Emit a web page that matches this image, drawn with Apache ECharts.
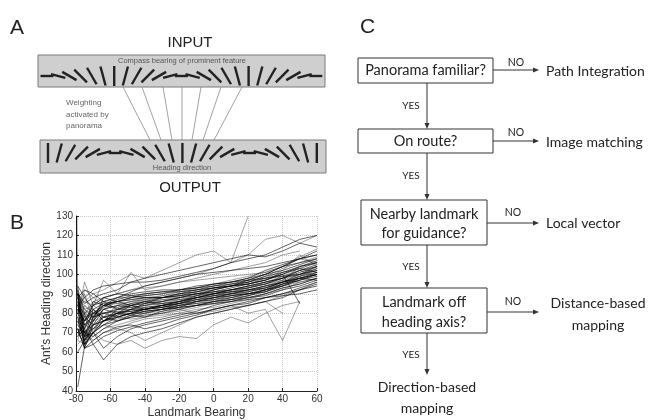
<!DOCTYPE html>
<html>
<head>
<meta charset="utf-8">
<script src="https://cdn.jsdelivr.net/npm/echarts@6/dist/echarts.min.js"></script>
<style>
  html, body { margin: 0; padding: 0; background: #fff; }
  #main { width: 656px; height: 420px; }
</style>
</head>
<body>
<div id="main"></div>
<script>
// panel B data: heading of each ant track read at these landmark bearings
const bearings = [-79, -75, -70, -64, -56, -48, -40, -30, -20, -10, 0, 10, 20, 30, 40, 50, 60];
const xTicks = [-80, -60, -40, -20, 0, 20, 40, 60];
const yTicks = [40, 50, 60, 70, 80, 90, 100, 110, 120, 130];

const track01 = [88, 72, 80, 84, 86, 88, 89, 90, 92, 93, 95, 96, 98, 100, 104, 106, 108];
const track02 = [76, 66, 74, 78, 80, 81, 82, 84, 85, 87, 88, 90, 91, 93, 96, 99, 101];
const track03 = [92, 80, 86, 88, 90, 92, 93, 94, 96, 98, 100, 102, 104, 106, 110, 112, null];
const track04 = [70, 64, 70, 74, 76, 78, 79, 80, 82, 84, 86, 87, 89, 91, 94, 97, 99];
const track05 = [84, 76, 82, 85, 86, 87, 88, 88, 89, 90, 91, 92, 93, 95, 98, 101, 104];
const track06 = [64, 68, 72, 74, 72, 75, 77, 78, 80, 82, 83, 85, 87, 90, 92, 96, 98];
const track07 = [90, 85, 88, 90, 92, 96, 98, 100, 102, 104, 106, 108, 110, 109, 112, 116, 114];
const track08 = [78, 70, 76, 82, 80, 79, 78, 81, 83, 86, 88, 89, 90, 91, 95, 98, 100];
const track09 = [86, 82, 84, 86, 85, 84, 86, 87, 88, 89, 90, 91, 92, 92, 96, 99, 103];
const track10 = [72, 62, 66, 70, 73, 74, 72, 74, 77, 79, 82, 84, 86, 88, 90, 93, 96];
const track11 = [82, 78, 74, 76, 79, 82, 85, 88, 90, 92, 94, 96, 98, 102, 105, 108, 110];
const track12 = [88, 84, 80, 82, 84, 86, 87, 86, 87, 88, 89, 90, 90, 92, 94, 96, null];
const track13 = [60, 66, 70, 62, 68, 72, 74, 76, 78, 80, 82, 84, 85, 88, 90, 92, 95];
const track14 = [94, 88, 92, 94, 95, 96, 96, 97, 99, 101, 103, 106, 108, 110, 114, 118, 120];
const track15 = [76, 80, 78, 80, 82, 83, 84, 85, 86, 88, 89, 91, 93, 96, 99, 102, 105];
const track16 = [68, 72, 64, 56, 64, 68, 70, 72, 75, 78, 80, 82, 84, 86, 88, 92, 94];
const track17 = [84, 74, 79, 83, 87, 89, 90, 91, 91, 92, 93, 94, 95, 97, 100, 103, 101];
const track18 = [80, 70, 72, 78, 80, 80, 80, 82, 84, 86, 87, 88, 89, 92, 97, 104, 106];
const track19 = [74, 68, 78, 84, 88, 91, 94, 96, 98, 100, 101, 102, 103, 104, 106, 108, 110];
const track20 = [88, 92, 90, 86, 88, 90, 91, 92, 92, 93, 94, 95, 96, 98, 99, 100, 102];
const track21 = [66, 64, 68, 72, 74, 76, 78, 79, 80, 80, 81, 83, 84, 86, 89, 92, 96];
const track22 = [82, 76, 84, 88, 86, 84, 82, 83, 85, 88, 90, 91, 92, 94, 96, 100, 104];
const track23 = [72, 70, 74, 76, 78, 80, 82, 84, 86, 89, 92, 94, 96, 99, 101, 103, 106];
const track24 = [86, 78, 80, 80, 82, 85, 87, 88, 89, 90, 90, 91, 91, 93, 95, 98, 100];
const track25 = [78, 64, 70, 76, 82, 84, 85, 86, 88, 90, 92, 94, 97, 100, 104, 108, 112];
const track26 = [90, 82, 78, 80, 81, 81, 82, 83, 84, 85, 86, 87, 88, 89, 92, 94, 97];
const track27 = [70, 74, 76, 78, 79, 80, 80, 81, 82, 84, 85, 86, 88, 90, 93, 95, 98];
const track28 = [84, 88, 82, 78, 76, 78, 80, 82, 83, 84, 86, 88, 90, 92, 94, 98, 100];
const track29 = [86, 80, 84, 88, 90, 92, 94, 96, 98, 100, 103, 106, 130, null, null, null, null];
const track30 = [80, 74, 78, 80, 82, 84, 86, 84, 82, 80, 82, 84, 80, 82, 66, 86, null];
const track31 = [76, 68, 70, 66, 64, 66, 62, 66, 68, 67, 74, 78, 75, 80, 84, 86, null];
const track32 = [84, 86, 90, 92, 96, 100, 98, 102, 106, 110, 112, 106, 110, 118, 120, 116, 120];
const track33 = [42, 63, 70, 74, 78, 80, 82, 84, 86, 88, 90, 92, 94, 96, 98, 102, 104];
const track34 = [80, 96, 84, 97, 90, 101, 92, 94, 96, 97, 98, 99, 100, 101, 104, 108, 106];
const track35 = [74, 70, 66, 70, 72, 70, 66, 70, 74, 78, 80, 82, 84, 86, 80, null, null];
const track36 = [82, 76, 80, 84, 86, 88, 90, 91, 92, 94, 95, 96, 97, 98, 100, 85, null];
const track37 = [72, 66, 72, 76, 78, 80, 81, 82, 83, 84, 85, 86, 87, 88, 89, 90, 92];
const track38 = [90, 86, 84, 86, 88, 88, 89, 90, 91, 92, 93, 94, 95, 98, 102, 110, 104];
const track39 = [90, 68, 82, 76, 80, 84, 86, 85, 86, 88, 90, 92, 94, 96, 98, 100, 103];
const track40 = [66, 78, 70, 80, 78, 80, 83, 84, 86, 87, 88, 89, 91, 94, 97, 100, 102];
const track41 = [85, 62, 74, 82, 84, 83, 84, 86, 88, 90, 91, 93, 95, 97, 100, 104, 107];
const track42 = [78, 90, 76, 84, 82, 84, 85, 87, 87, 89, 91, 92, 94, 95, 98, 102, 99];
const track43 = [92, 70, 68, 72, 76, 79, 81, 82, 84, 86, 88, 90, 92, 94, 96, 98, 101];
const track44 = [74, 84, 80, 78, 84, 86, 88, 89, 90, 91, 92, 94, 96, 99, 103, 106, 109];
const track45 = [88, 66, 78, 86, 82, 82, 83, 84, 85, 86, 87, 89, 90, 92, 95, 97, 100];
const track46 = [70, 76, 84, 80, 78, 77, 78, 80, 81, 83, 85, 87, 89, 92, 95, 99, 102];
const track47 = [82, 64, 76, 88, 90, 89, 88, 88, 90, 91, 93, 95, 97, 100, 102, 105, 108];
const track48 = [94, 74, 72, 78, 80, 82, 84, 85, 87, 88, 89, 91, 93, 95, 97, 96, 98];
const track49 = [76, 72, 86, 84, 83, 85, 86, 88, 89, 91, 93, 94, 95, 97, 101, 104, 106];
const track50 = [86, 68, 70, 76, 80, 82, 82, 83, 85, 87, 89, 90, 92, 93, 96, 98, 97];
const track51 = [68, 80, 82, 76, 77, 79, 81, 82, 84, 85, 87, 88, 90, 91, 94, 97, 100];
const track52 = [80, 92, 88, 84, 85, 86, 87, 89, 91, 93, 95, 97, 99, 101, 104, 109, 113];
const track53 = [72, 62, 64, 68, 71, 73, 75, 77, 79, 81, 84, 86, 88, 90, 93, 95, 98];
const track54 = [90, 80, 76, 82, 86, 87, 88, 88, 88, 89, 90, 92, 93, 95, 99, 102, 105];

// the near-vertical spike at the left edge
const spikeBearings = [-79.6, -79.3, -77, -74];
const spikeHeadings = [130, 90, 82, 78];

const darkTracks = [track01, track02, track04, track05, track07, track08, track10, track11,
  track13, track14, track16, track17, track19, track20, track22, track23, track25, track26,
  track28, track33, track36, track37, track39, track41, track43, track45, track47, track49,
  track50, track53];
const lightTracks = [track03, track06, track09, track12, track15, track18, track21, track24,
  track27, track29, track30, track31, track32, track34, track35, track38, track40, track42,
  track44, track46, track48, track51, track52, track54];

const chart = echarts.init(document.getElementById('main'));

function zip(xs, ys) {
  return xs.map((x, i) => [x, ys[i]]);
}

const series = [];
lightTracks.forEach(t => series.push({
  type: 'line', data: zip(bearings, t), showSymbol: false, silent: true,
  lineStyle: { color: 'rgba(60,60,60,0.48)', width: 1 }
}));
darkTracks.forEach(t => series.push({
  type: 'line', data: zip(bearings, t), showSymbol: false, silent: true,
  lineStyle: { color: 'rgba(0,0,0,0.6)', width: 1 }
}));
series.push({
  type: 'line', data: zip(spikeBearings, spikeHeadings), showSymbol: false, silent: true,
  lineStyle: { color: 'rgba(0,0,0,0.6)', width: 1.2 }
});

// ---- drawing helpers for panels A and C ----
const g = [];
function txt(x, y, s, size, o) {
  o = o || {};
  g.push({
    type: 'text', x: x, y: y, silent: true,
    style: {
      text: s, fontSize: size, fontFamily: o.font || 'Liberation Sans, Arial, sans-serif',
      fill: o.color || '#222', align: o.align || 'center', textAlign: o.align || 'center',
      verticalAlign: 'middle', textVerticalAlign: 'middle'
    }
  });
}
function seg(x1, y1, x2, y2, color, w) {
  g.push({
    type: 'line', silent: true, shape: { x1: x1, y1: y1, x2: x2, y2: y2 },
    style: { stroke: color, lineWidth: w, lineCap: 'butt' }
  });
}
function rect(x, y, w, h, fill, stroke) {
  g.push({
    type: 'rect', silent: true, shape: { x: x, y: y, width: w, height: h },
    style: { fill: fill, stroke: stroke, lineWidth: 1 }
  });
}
function arrowRight(x1, x2, y) {
  seg(x1, y, x2 - 4, y, '#333', 1);
  g.push({ type: 'polygon', silent: true, shape: { points: [[x2, y], [x2 - 6, y - 2.5], [x2 - 6, y + 2.5]] }, style: { fill: '#333' } });
}
function arrowDown(x, y1, y2) {
  seg(x, y1, x, y2 - 4, '#333', 1);
  g.push({ type: 'polygon', silent: true, shape: { points: [[x, y2], [x - 2.5, y2 - 6], [x + 2.5, y2 - 6]] }, style: { fill: '#333' } });
}
function orientedBar(cx, cy, deg) {
  const r = deg * Math.PI / 180;
  const L = 13 + 7 * Math.abs(Math.sin(r));
  const dx = Math.cos(r) * L / 2, dy = Math.sin(r) * L / 2;
  seg(cx - dx, cy + dy, cx + dx, cy - dy, '#222', 2.4);
}

// ---- panel A ----
txt(10, 28, 'A', 21, { align: 'left' });
txt(190, 43, 'INPUT', 15);
rect(38, 55, 287, 32, '#cfcfcf', '#7a7a7a');
txt(182, 61, 'Compass bearing of prominent feature', 7.5, { color: '#555' });
rect(40, 140, 286, 33, '#cfcfcf', '#7a7a7a');
txt(182, 168, 'Heading direction', 7.5, { color: '#555' });
for (let i = 0; i < 25; i++) {
  orientedBar(47 + i * 11.2, 76, 180 - 15 * i);
  orientedBar(48 + i * 11.2, 153, 90 - 15 * i);
}
const linkTop = [123, 142, 163, 182, 201, 221, 242];
const linkBottom = [150, 161, 172, 182, 192, 203, 214];
linkTop.forEach((x, i) => seg(x, 87, linkBottom[i], 140, '#8a8a8a', 0.8));
txt(66, 103, 'Weighting', 8, { align: 'left', color: '#666' });
txt(66, 115, 'activated by', 8, { align: 'left', color: '#666' });
txt(66, 126, 'panorama', 8, { align: 'left', color: '#666' });
txt(190, 188, 'OUTPUT', 15);

// ---- panel B label ----
txt(10, 223, 'B', 21, { align: 'left' });

// ---- panel C flowchart ----
const gill = 'Lato, "Open Sans", sans-serif';
txt(360, 27, 'C', 21, { align: 'left' });
rect(358, 58, 135, 25, '#fff', '#333');
txt(425.5, 70.5, 'Panorama familiar?', 14.5, { font: gill });
arrowRight(493, 539, 70);
txt(516, 63, 'NO', 10.5, { font: gill });
txt(546, 71, 'Path Integration', 14, { font: gill, align: 'left' });
arrowDown(427, 83, 129);
txt(411, 106, 'YES', 10, { font: gill });

rect(358, 129, 135, 24, '#fff', '#333');
txt(425.5, 141, 'On route?', 14.5, { font: gill });
arrowRight(493, 539, 141);
txt(516, 133, 'NO', 10.5, { font: gill });
txt(546, 142, 'Image matching', 14, { font: gill, align: 'left' });
arrowDown(427, 153, 200);
txt(411, 176, 'YES', 10, { font: gill });

rect(361, 200, 126, 45, '#fff', '#333');
txt(424, 214, 'Nearby landmark', 14.5, { font: gill });
txt(424, 233, 'for guidance?', 14.5, { font: gill });
arrowRight(487, 539, 223);
txt(513, 213, 'NO', 10.5, { font: gill });
txt(546, 223, 'Local vector', 14, { font: gill, align: 'left' });
arrowDown(427, 245, 288);
txt(411, 267, 'YES', 10, { font: gill });

rect(361, 288, 126, 45, '#fff', '#333');
txt(424, 302, 'Landmark off', 14.5, { font: gill });
txt(424, 322, 'heading axis?', 14.5, { font: gill });
arrowRight(487, 539, 312);
txt(513, 302, 'NO', 10.5, { font: gill });
txt(598, 303, 'Distance-based', 14, { font: gill });
txt(598, 325, 'mapping', 14, { font: gill });
arrowDown(427, 333, 375);
txt(411, 355, 'YES', 10, { font: gill });
txt(427, 387, 'Direction-based', 14, { font: gill });
txt(427, 408, 'mapping', 14, { font: gill });

chart.setOption({
  animation: false,
  backgroundColor: '#fff',
  grid: { left: 76, top: 216, width: 241, height: 179 },
  xAxis: {
    type: 'value', min: xTicks[0], max: xTicks[xTicks.length - 1], interval: 20,
    name: 'Landmark Bearing', nameLocation: 'middle', nameGap: 16,
    nameTextStyle: { fontSize: 12, color: '#333', fontFamily: 'Liberation Sans, Arial' },
    axisLine: { onZero: false, lineStyle: { color: '#222', width: 1 } },
    axisTick: { inside: true, length: 3, lineStyle: { color: '#222' } },
    axisLabel: { fontSize: 10, color: '#333', margin: 3, fontFamily: 'Liberation Sans, Arial' },
    splitLine: { show: true, lineStyle: { color: '#c8c8c8', type: 'dotted', width: 1 } }
  },
  yAxis: {
    type: 'value', min: yTicks[0], max: yTicks[yTicks.length - 1], interval: 10,
    name: "Ant's Heading direction", nameLocation: 'middle', nameGap: 22,
    nameTextStyle: { fontSize: 12, color: '#333', fontFamily: 'Liberation Sans, Arial' },
    axisLine: { show: true, onZero: false, lineStyle: { color: '#222', width: 1 } },
    axisTick: { show: true, inside: true, length: 3, lineStyle: { color: '#222' } },
    axisLabel: { fontSize: 10, color: '#333', margin: 3, fontFamily: 'Liberation Sans, Arial' },
    splitLine: { show: true, lineStyle: { color: '#c8c8c8', type: 'dotted', width: 1 } }
  },
  series: series,
  graphic: g
});
</script>
</body>
</html>
